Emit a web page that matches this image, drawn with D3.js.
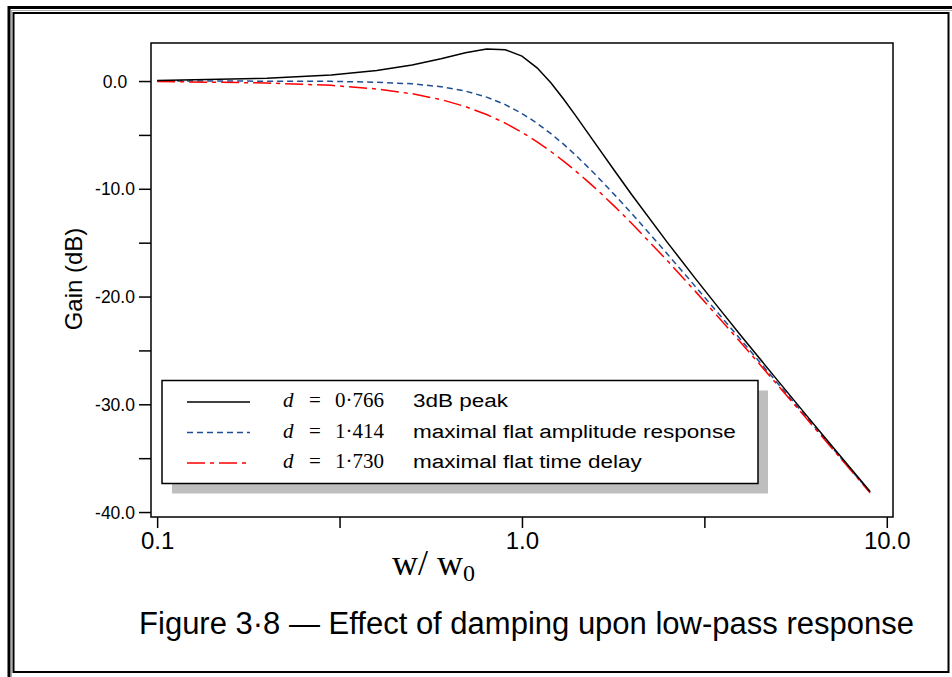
<!DOCTYPE html>
<html>
<head>
<meta charset="utf-8">
<script src="https://cdn.jsdelivr.net/npm/d3@7"></script>
<style>
  body { margin: 0; background: white; }
  .sans { font-family: "Liberation Sans", Arial, sans-serif; }
  .serif { font-family: "Liberation Serif", "Times New Roman", serif; }
</style>
</head>
<body>
<div id="wykres"></div>
<script>
// w/w0 sample points and gain (dB)
var freqs = [0.1, 0.2, 0.3, 0.4, 0.5, 0.6, 0.7, 0.8, 0.9, 1.0, 1.1, 1.2, 1.3, 1.4, 1.5, 1.6, 1.8, 2.0, 2.5, 3, 3.5, 4, 5, 6, 7, 8, 9];
var gainPeak = [0.06, 0.25, 0.55, 0.97, 1.49, 2.07, 2.62, 2.97, 2.91, 2.32, 1.23, -0.16, -1.67, -3.16, -4.60, -5.95, -8.40, -10.55, -14.95, -18.41, -21.26, -23.70, -27.71, -30.96, -33.68, -36.03, -38.09];
var gainFlatAmp = [0.00, -0.01, -0.03, -0.11, -0.26, -0.53, -0.93, -1.49, -2.19, -3.01, -3.92, -4.88, -5.86, -6.85, -7.83, -8.78, -10.61, -12.30, -16.03, -19.14, -21.79, -24.10, -27.97, -31.13, -33.81, -36.13, -38.17];
var gainFlatDelay = [-0.04, -0.18, -0.40, -0.74, -1.18, -1.72, -2.37, -3.11, -3.91, -4.76, -5.64, -6.54, -7.43, -8.32, -9.19, -10.04, -11.68, -13.22, -16.65, -19.59, -22.13, -24.36, -28.14, -31.25, -33.89, -36.19, -38.22];

var dampingValues = ["0·766", "1·414", "1·730"];
var legendLabels = ["3dB peak", "maximal flat amplitude response", "maximal flat time delay"];

var yTicks = [0, -5, -10, -15, -20, -25, -30, -35, -40];
var xTicks = [0.1, Math.sqrt(0.1), 1, Math.sqrt(10), 10];
var xTickLabels = {"0.1": "0.1", "1": "1.0", "10": "10.0"};

var caption = "Figure 3·8 — Effect of damping upon low-pass response";

var width = 952, height = 677;
var margin = {left: 151, right: 59, top: 43, bottom: 160};

var svg = d3.select("#wykres")
  .append("svg")
  .attr("width", width)
  .attr("height", height)
  .style("display", "block");

// double frame round the figure
svg.append("rect")
  .attr("x", 9).attr("y", 7.5)
  .attr("width", 960).attr("height", 700)
  .attr("fill", "none").attr("stroke", "black").attr("stroke-width", 3);
svg.append("rect")
  .attr("x", 11.5).attr("y", 10.5)
  .attr("width", 950).attr("height", 690)
  .attr("fill", "none").attr("stroke", "#aaa").attr("stroke-width", 1);
svg.append("rect")
  .attr("x", 13.5).attr("y", 13)
  .attr("width", 935).attr("height", 659)
  .attr("fill", "none").attr("stroke", "black").attr("stroke-width", 2);

var xscale = d3.scaleLog()
  .domain([0.0962, 10.4])
  .range([margin.left, width - margin.right]);

var yscale = d3.scaleLinear()
  .domain([-40.46, 3.53])
  .range([height - margin.bottom, margin.top]);

var x0 = xscale.range()[0], x1 = xscale.range()[1];
var y0 = yscale.range()[1], y1 = yscale.range()[0];

// y axis
var yAxis = svg.append("g")
  .attr("class", "sans")
  .attr("transform", "translate(" + x0 + ",0)")
  .call(d3.axisLeft(yscale).tickValues(yTicks).tickSize(12)
    .tickFormat(d => d % 10 === 0 ? d.toFixed(1) : ""));
yAxis.select(".domain").remove();
yAxis.selectAll("line").attr("stroke", "black").attr("stroke-width", 1.5);
yAxis.selectAll("text")
  .attr("x", -36).attr("dy", 6)
  .style("text-anchor", "middle")
  .style("font-size", "17.5px")
  .attr("fill", "black");

// x axis
var xAxis = svg.append("g")
  .attr("class", "sans")
  .attr("transform", "translate(0," + y1 + ")")
  .call(d3.axisBottom(xscale).tickValues(xTicks).tickSize(11)
    .tickFormat(d => xTickLabels[String(+d.toFixed(3))] || ""));
xAxis.select(".domain").remove();
xAxis.selectAll("line").attr("stroke", "black").attr("stroke-width", 1.5);
xAxis.selectAll("text")
  .attr("y", 32).attr("dy", 0)
  .style("font-size", "24px")
  .attr("fill", "black");

// plot frame
svg.append("rect")
  .attr("x", x0).attr("y", y0)
  .attr("width", x1 - x0).attr("height", y1 - y0)
  .attr("fill", "none").attr("stroke", "black").attr("stroke-width", 1.5);

var series = [
  {vals: gainFlatAmp, color: "#1f4e96", dash: "6,4"},
  {vals: gainFlatDelay, color: "#ff0000", dash: "18,5,4,5"},
  {vals: gainPeak, color: "black", dash: null}
];

var line = d3.line()
  .x((d, i) => xscale(freqs[i]))
  .y(d => yscale(d));

series.forEach(function (s) {
  svg.append("path")
    .datum(s.vals)
    .attr("fill", "none")
    .attr("stroke", s.color)
    .attr("stroke-width", 1.5)
    .attr("stroke-dasharray", s.dash)
    .attr("d", line);
});

//legend
var legendStyles = [series[2], series[0], series[1]];
svg.append("rect")
  .attr("x", 172).attr("y", 390.5)
  .attr("width", 596).attr("height", 103)
  .attr("fill", "#bebebe");
svg.append("rect")
  .attr("x", 162).attr("y", 380.5)
  .attr("width", 596).attr("height", 103)
  .attr("fill", "white").attr("stroke", "black").attr("stroke-width", 1.5);

function stretch(sel, k) {
  sel.each(function () {
    var w = this.getComputedTextLength();
    d3.select(this).attr("textLength", w * k).attr("lengthAdjust", "spacingAndGlyphs");
  });
}

legendLabels.forEach(function (lab, i) {
  var ry = 402 + i * 30.5;
  var st = legendStyles[i];
  svg.append("line")
    .attr("x1", 187).attr("x2", 250)
    .attr("y1", ry).attr("y2", ry)
    .attr("stroke", st.color).attr("stroke-width", 1.5)
    .attr("stroke-dasharray", st.dash);

  svg.append("text").attr("class", "serif")
    .attr("x", 283).attr("y", ry + 5)
    .style("font-size", "21px").style("font-style", "italic")
    .text("d");
  svg.append("text").attr("class", "serif")
    .attr("x", 315).attr("y", ry + 5)
    .style("font-size", "21px").style("text-anchor", "middle")
    .text("=");
  svg.append("text").attr("class", "serif")
    .attr("x", 335).attr("y", ry + 5)
    .style("font-size", "21px")
    .text(dampingValues[i]);

  var t = svg.append("text").attr("class", "sans")
    .attr("x", 413).attr("y", ry + 5)
    .style("font-size", "18px")
    .text(lab);
  stretch(t, 1.25);
});

// axis titles
svg.append("text").attr("class", "sans")
  .attr("transform", "translate(82,279)rotate(-90)")
  .style("font-size", "24px")
  .style("text-anchor", "middle")
  .text("Gain (dB)");

var xl = svg.append("text").attr("class", "serif")
  .attr("x", 392).attr("y", 575)
  .style("font-size", "36px");
xl.append("tspan").text("w/ w");
xl.append("tspan").attr("dy", 6).style("font-size", "24px").text("0");

svg.append("text").attr("class", "sans")
  .attr("x", 526.5).attr("y", 634)
  .style("font-size", "31px")
  .style("text-anchor", "middle")
  .text(caption);
</script>
</body>
</html>
